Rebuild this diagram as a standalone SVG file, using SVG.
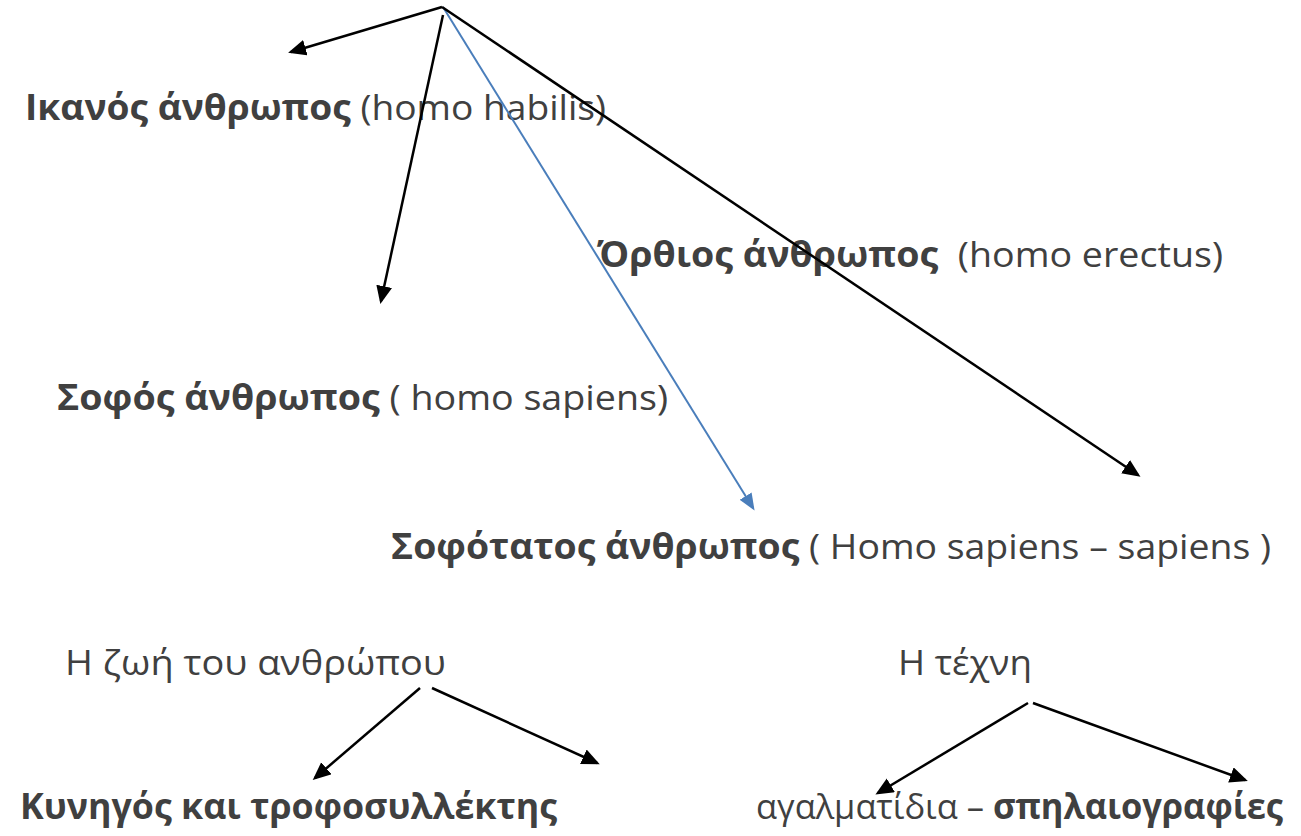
<svg xmlns="http://www.w3.org/2000/svg" width="1301" height="836" viewBox="0 0 1301 836">
<style>
text{font-family:"Open Sans","DejaVu Sans",sans-serif;font-size:35px;fill:#404040}
.b{font-weight:bold}
.k{stroke:#000;stroke-width:2.5;fill:none}
.bl{stroke:#4a7ebb;stroke-width:2;fill:none}
</style>
<defs>
<marker id="ah" markerUnits="userSpaceOnUse" markerWidth="19" markerHeight="17" refX="15" refY="8" orient="auto"><path d="M0,0 L18,8 L0,16 z" fill="#000"/></marker>
<marker id="ahb" markerUnits="userSpaceOnUse" markerWidth="18" markerHeight="15" refX="14" refY="7" orient="auto"><path d="M0,0 L17,7 L0,14 z" fill="#4a7ebb"/></marker>
</defs>
<rect width="1301" height="836" fill="#fff"/>
<g id="n1"><text x="25" y="120" textLength="581" lengthAdjust="spacingAndGlyphs"><tspan class="b">Ικανός άνθρωπος</tspan> (homo habilis)</text></g>
<g id="n2"><text x="597" y="267" textLength="626" lengthAdjust="spacingAndGlyphs" xml:space="preserve"><tspan class="b">Όρθιος άνθρωπος</tspan>  (homo erectus)</text></g>
<g id="n3"><text x="57" y="410" textLength="611" lengthAdjust="spacingAndGlyphs"><tspan class="b">Σοφός άνθρωπος</tspan> ( homo sapiens)</text></g>
<g id="n4"><text x="391" y="559" textLength="880" lengthAdjust="spacingAndGlyphs"><tspan class="b">Σοφότατος άνθρωπος</tspan> ( Homo sapiens – sapiens )</text></g>
<g id="n5"><text x="65" y="675" textLength="381" lengthAdjust="spacingAndGlyphs">Η ζωή του ανθρώπου</text></g>
<g id="n6"><text x="898" y="675" textLength="134" lengthAdjust="spacingAndGlyphs">Η τέχνη</text></g>
<g id="n7"><text class="b" x="20" y="819" textLength="537" lengthAdjust="spacingAndGlyphs">Κυνηγός και τροφοσυλλέκτης</text></g>
<g id="n8"><text x="756" y="819" textLength="527" lengthAdjust="spacingAndGlyphs">αγαλματίδια – <tspan class="b">σπηλαιογραφίες</tspan></text></g>
<g id="connectors">
<path class="k" d="M442,7 L291,52" marker-end="url(#ah)"/>
<path class="k" d="M443,15 L381,301" marker-end="url(#ah)"/>
<path class="bl" d="M443,7 L753,508" marker-end="url(#ahb)"/>
<path class="k" d="M442,7 L1138,475" marker-end="url(#ah)"/>
<path class="k" d="M420,688 L315,778" marker-end="url(#ah)"/>
<path class="k" d="M432,688 L597,763" marker-end="url(#ah)"/>
<path class="k" d="M1028,703 L878,793" marker-end="url(#ah)"/>
<path class="k" d="M1033,703 L1245,780" marker-end="url(#ah)"/>
</g>
</svg>
